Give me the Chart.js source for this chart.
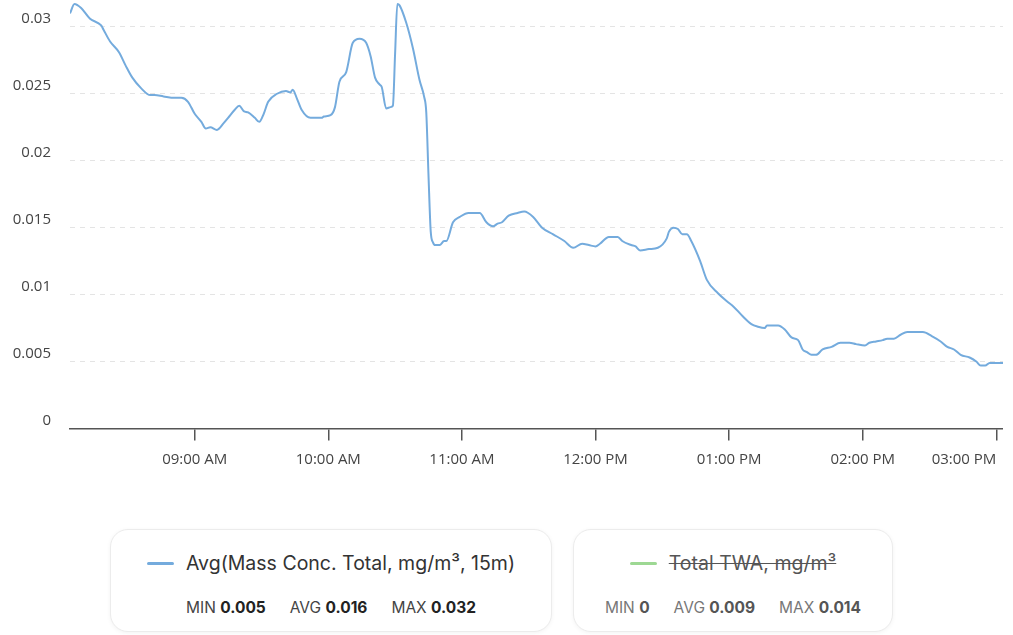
<!DOCTYPE html>
<html>
<head>
<meta charset="utf-8">
<script src="https://cdn.jsdelivr.net/npm/chart.js@4.4.1/dist/chart.umd.min.js"></script>
<style>
    body { margin: 0; background: #fff; }
    #wrap { position: relative; width: 1013px; height: 635px; overflow: hidden; }
    #chart-box { position: absolute; left: 0; top: 0; width: 1013px; height: 480px; }
    .card {
        position: absolute; top: 529px; height: 103px; box-sizing: border-box;
        border: 1px solid #ececec; border-radius: 18px; background: #fff;
        box-shadow: 0 1px 4px rgba(0, 0, 0, 0.05);
        font-family: "Inter", sans-serif; text-align: center;
    }
    #card-0 { left: 110px; width: 442px; }
    #card-1 { left: 573px; width: 320px; }
    .card .head {
        margin-top: 20px; height: 26px; font-size: 19.5px; color: #333;
        display: flex; align-items: center; justify-content: center;
    }
    .card .swatch { width: 27px; height: 3px; margin-right: 12px; border-radius: 2px; }
    .card .stats { margin-top: 23px; font-size: 15.5px; line-height: 18px; color: #444; }
    .card .stats span { margin: 0 12px; }
    .card .stats b { font-weight: 700; color: #222; }
    .card.off .name { text-decoration: line-through; color: #555; }
    .card.off .stats { color: #777; }
    .card.off .stats b { color: #555; }
</style>
</head>
<body>
<div id="wrap">
    <div id="chart-box"><canvas id="mass-chart"></canvas></div>
</div>
<script>
// 時刻（HH:MM）と15分平均の質量濃度 mg/m3
const timeLabels = [
    '08:04', '08:06', '08:09', '08:13', '08:18', '08:19', '08:22', '08:26', '08:29', '08:32',
    '08:36', '08:40', '08:42', '08:46', '08:51', '08:54', '08:57', '09:00', '09:03', '09:05',
    '09:07', '09:10', '09:13', '09:15', '09:18', '09:20', '09:22', '09:24', '09:27', '09:29',
    '09:31', '09:33', '09:37', '09:41', '09:43', '09:44', '09:46', '09:48', '09:52', '09:57',
    '09:58', '10:01', '10:03', '10:05', '10:08', '10:11', '10:14', '10:17', '10:19', '10:21',
    '10:23', '10:24', '10:26', '10:28', '10:29', '10:30', '10:31', '10:32', '10:35', '10:38',
    '10:41', '10:43', '10:44', '10:45', '10:46', '10:47', '10:48', '10:50', '10:52', '10:53',
    '10:56', '10:59', '11:03', '11:08', '11:11', '11:14', '11:16', '11:18', '11:21', '11:25',
    '11:28', '11:32', '11:36', '11:41', '11:46', '11:50', '11:54', '11:57', '12:00', '12:02',
    '12:06', '12:10', '12:12', '12:16', '12:18', '12:20', '12:24', '12:28', '12:32', '12:33',
    '12:35', '12:37', '12:39', '12:41', '12:43', '12:47', '12:50', '12:55', '12:59', '13:02',
    '13:06', '13:10', '13:13', '13:16', '13:17', '13:22', '13:25', '13:28', '13:31', '13:33',
    '13:35', '13:37', '13:39', '13:42', '13:46', '13:50', '13:54', '13:57', '14:01', '14:03',
    '14:06', '14:09', '14:11', '14:14', '14:17', '14:20', '14:27', '14:31', '14:35', '14:38',
    '14:41', '14:44', '14:48', '14:51', '14:53', '14:55', '14:57', '15:03'
];
const massConc = [
    0.0310, 0.0317, 0.0314, 0.0306, 0.0301, 0.0298, 0.0289, 0.0281, 0.0271, 0.0262,
    0.0254, 0.0249, 0.0249, 0.0248, 0.0247, 0.0247, 0.0244, 0.0235, 0.0229, 0.0224,
    0.0225, 0.0223, 0.0228, 0.0232, 0.0238, 0.0241, 0.0237, 0.0236, 0.0232, 0.0229,
    0.0235, 0.0244, 0.0250, 0.0252, 0.0251, 0.0253, 0.0246, 0.0238, 0.0232, 0.0232,
    0.0233, 0.0234, 0.0240, 0.0259, 0.0266, 0.0288, 0.0291, 0.0288, 0.0278, 0.0262,
    0.0257, 0.0255, 0.0239, 0.0240, 0.0241, 0.0280, 0.0317, 0.0316, 0.0303, 0.0284,
    0.0260, 0.0248, 0.0236, 0.0189, 0.0147, 0.0139, 0.0137, 0.0137, 0.0140, 0.0140,
    0.0154, 0.0158, 0.0161, 0.0161, 0.0154, 0.0151, 0.0153, 0.0154, 0.0159, 0.0161,
    0.0162, 0.0158, 0.0150, 0.0145, 0.0140, 0.0135, 0.0138, 0.0137, 0.0136, 0.0138,
    0.0143, 0.0143, 0.0140, 0.0137, 0.0136, 0.0133, 0.0134, 0.0135, 0.0142, 0.0147,
    0.0150, 0.0149, 0.0145, 0.0145, 0.0140, 0.0125, 0.0111, 0.0101, 0.0095, 0.0091,
    0.0084, 0.0078, 0.0076, 0.0075, 0.0077, 0.0077, 0.0074, 0.0068, 0.0066, 0.0059,
    0.0057, 0.0055, 0.0055, 0.0059, 0.0061, 0.0064, 0.0064, 0.0063, 0.0062, 0.0064,
    0.0065, 0.0066, 0.0067, 0.0067, 0.0070, 0.0072, 0.0072, 0.0069, 0.0065, 0.0061,
    0.0059, 0.0055, 0.0053, 0.0050, 0.0047, 0.0047, 0.0049, 0.0049
];

// 軸の目盛り
const hourTicks = ['09:00', '10:00', '11:00', '12:00', '13:00', '14:00', '15:00'];
const hourTickLabels = ['09:00 AM', '10:00 AM', '11:00 AM', '12:00 PM', '01:00 PM', '02:00 PM', '03:00 PM'];
const yTicks = [0, 0.005, 0.01, 0.015, 0.02, 0.025, 0.03];
const yTickLabels = ['0', '0.005', '0.01', '0.015', '0.02', '0.025', '0.03'];

// 凡例カード
const seriesNames = ['Avg(Mass Conc. Total, mg/m³, 15m)', 'Total TWA, mg/m³'];
const seriesColors = ['#74abdd', '#9dd893'];
const seriesHidden = [false, true];
const seriesMin = ['0.005', '0'];
const seriesAvg = ['0.016', '0.009'];
const seriesMax = ['0.032', '0.014'];

function toMinutes(hhmm) {
    const parts = hhmm.split(':');
    return Number(parts[0]) * 60 + Number(parts[1]);
}

const axisFont = { family: '"Open Sans", sans-serif', size: 15 };

const points = timeLabels.map((t, i) => ({ x: toMinutes(t), y: massConc[i] }));

const ctx = document.getElementById('mass-chart').getContext('2d');
const massChart = new Chart(ctx, {
    type: 'line',
    data: {
        datasets: [{
            label: seriesNames[0],
            data: points,
            borderColor: seriesColors[0],
            borderWidth: 2,
            pointRadius: 0,
            cubicInterpolationMode: 'monotone',
            fill: false
        }, {
            label: seriesNames[1],
            data: [],
            borderColor: seriesColors[1],
            hidden: true
        }]
    },
    options: {
        responsive: true,
        maintainAspectRatio: false,
        animation: false,
        layout: { padding: { left: 12, right: 10, top: 0, bottom: 1.5 } },
        plugins: {
            legend: { display: false },
            tooltip: { enabled: false }
        },
        scales: {
            x: {
                type: 'linear',
                min: toMinutes(timeLabels[0]),
                max: toMinutes(timeLabels[timeLabels.length - 1]),
                afterBuildTicks: (scale) => {
                    // 先頭は空ラベル（inner 揃えのため）
                    scale.ticks = [{ value: scale.min }].concat(hourTicks.map(h => ({ value: toMinutes(h) })));
                },
                afterFit: (scale) => {
                    scale.paddingLeft = 0;
                    scale.paddingRight = 0;
                },
                ticks: {
                    autoSkip: false,
                    minRotation: 0,
                    maxRotation: 0,
                    align: 'inner',
                    padding: 10,
                    color: '#444',
                    font: axisFont,
                    callback: (value, index) => index === 0 ? '' : hourTickLabels[index - 1]
                },
                grid: {
                    drawOnChartArea: false,
                    tickLength: 12,
                    color: '#555',
                    lineWidth: (c) => c.index === 0 ? 0 : 1.5
                },
                border: { display: true, color: '#555', width: 1.5 }
            },
            y: {
                min: 0,
                max: 0.032,
                afterBuildTicks: (scale) => {
                    scale.ticks = yTicks.map(v => ({ value: v }));
                },
                afterFit: (scale) => {
                    scale.width = 58;
                    scale.paddingTop = 0;
                    scale.paddingBottom = 0;
                },
                ticks: {
                    padding: 19,
                    labelOffset: -8,
                    color: '#444',
                    font: axisFont,
                    callback: (value, index) => yTickLabels[index]
                },
                grid: { drawTicks: false, color: '#e4e4e4', lineWidth: 1 },
                border: { display: false, dash: [5, 5] }
            }
        }
    }
});

// 凡例カードを生成
const wrap = document.getElementById('wrap');
seriesNames.forEach((name, i) => {
    const card = document.createElement('div');
    card.id = 'card-' + i;
    card.className = 'card' + (seriesHidden[i] ? ' off' : '');
    card.innerHTML =
        '<div class="head"><div class="swatch" style="background:' + seriesColors[i] + '"></div>' +
        '<span class="name">' + name + '</span></div>' +
        '<div class="stats"><span>MIN <b>' + seriesMin[i] + '</b></span>' +
        '<span>AVG <b>' + seriesAvg[i] + '</b></span>' +
        '<span>MAX <b>' + seriesMax[i] + '</b></span></div>';
    wrap.appendChild(card);
});
</script>
</body>
</html>
